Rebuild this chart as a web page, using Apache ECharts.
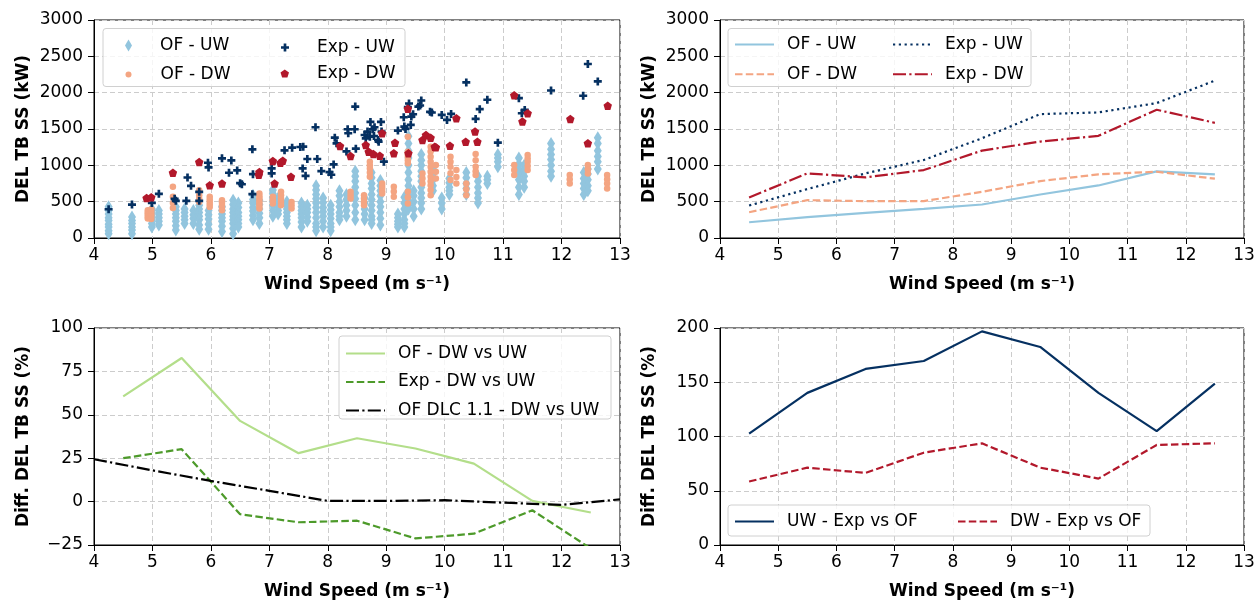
<!DOCTYPE html>
<html><head><meta charset="utf-8">
<script src="https://cdn.jsdelivr.net/npm/echarts@6/dist/echarts.min.js"></script>
<style>html,body{margin:0;padding:0;background:#fff}#c{width:1259px;height:605px}</style>
</head><body><div id="c"></div>
<script>
// ---------- DATA ----------
const windTicks = [4,5,6,7,8,9,10,11,12,13];
const binSpeeds = [4.5,5.5,6.5,7.5,8.5,9.5,10.5,11.5,12.5];

// Panel A: scatter (OpenFAST columns: [speed, [DEL values]])
const ofUwCols = [
 [4.25,[430,380,330,280,240,190,150,100,60]],
 [4.65,[290,240,200,150,110,60]],
 [4.99,[400,350,300,250,200,150]],
 [5.11,[380,330,280,230,180]],
 [5.4,[430,380,330,280,230,170,110]],
 [5.55,[400,350,300,250,200]],
 [5.7,[380,320,270,200]],
 [5.8,[450,400,350,300,250,180,120]],
 [5.96,[380,320,260,190,120]],
 [6.19,[430,380,330,280,230,160,90]],
 [6.38,[520,460,400,350,300,250,200,130,60]],
 [6.47,[480,420,350,300,250,200,150]],
 [6.72,[590,530,480,420,370,310,250]],
 [6.83,[520,460,400,340,280,200]],
 [7.06,[660,610,560,500,450,380,300]],
 [7.15,[550,490,430,380,330]],
 [7.3,[500,450,400,350,300,250,200]],
 [7.55,[480,430,380,330,280,220,150]],
 [7.65,[450,400,350,290,230]],
 [7.8,[720,660,600,540,480,420,350,280,200,150,100]],
 [7.92,[550,490,420,360,300,230,150]],
 [8.05,[450,390,330,270,200,150,100]],
 [8.2,[650,580,500,430,350,300,250]],
 [8.32,[600,530,450,380,300]],
 [8.47,[920,850,780,700,620,540,450,350,250]],
 [8.63,[550,480,400,330,250]],
 [8.75,[900,830,750,680,600,530,450,380,300,250,200]],
 [8.9,[790,720,650,580,500,430,350,270,180]],
 [9.2,[330,280,230,190,150]],
 [9.31,[560,480,400,330,250,200,150]],
 [9.38,[1400,1300,1200,1100,1000,900,800,720,650,570,500,450,400]],
 [9.47,[650,580,500,400,300]],
 [9.6,[1150,1070,1000,920,850,780,700,620,550,480,400]],
 [9.8,[950,880,800,720,650]],
 [9.95,[550,480,400]],
 [10.08,[820,760,700,650,600]],
 [10.37,[900,830,750,680,600]],
 [10.57,[850,780,700,620,550,480]],
 [10.73,[850,800,750]],
 [10.91,[1150,1100,1050,980]],
 [11.27,[1100,1020,950,880,800,700,600]],
 [11.36,[1000,920,850,780,700]],
 [11.82,[1300,1220,1150,1080,1000,920,850]],
 [12.38,[900,820,750,680,600]],
 [12.45,[950,880,800,720,650]],
 [12.62,[1380,1300,1200,1120,1050,950]]
];
const ofDwCols = [
 [4.92,[382,350,327,295,267]],[4.98,[396,360,327,295,262]],[5.35,[704,566,480,414]],[5.8,[658,589,540,497]],
 [5.98,[566,530,497,460,428]],[6.19,[520,485,451,415,382]],[6.83,[612,575,543,510,474,440,405]],[7.06,[566,520,474]],
 [7.2,[635,590,543,500,451]],[7.38,[497,450,405]],[8.39,[635,590,543]],[8.62,[589,540,497,451]],
 [8.72,[1050,1000,958,900,843]],[8.93,[750,715,681,645,612]],[9.13,[704,640,566]],
 [9.37,[1395,1188,1150,1119,1070,1027,635,560,474]],[9.62,[889,820,750]],
 [9.76,[1257,1190,1119,1050,981,910,843,780,727,660,589]],[9.85,[1004,910,820]],
 [10.1,[1119,1050,981,890,797]],[10.2,[935,840,750]],[10.37,[750,670,589]],[10.53,[1156,1070,981,920,866]],
 [11.19,[1004,935,866]],[11.42,[1142,1095,1050,990,935]],[12.14,[866,810,750]],[12.45,[1004,945,889]],
 [12.78,[866,810,750,681]]
];
const expUwPts = [[4.25,396],[4.65,460],[5.11,608],[4.99,483],[5.38,539],[5.4,511],[5.58,511],[5.6,833],[5.66,718],[5.8,635],[5.8,511],[5.95,1036],[5.96,971],[6.19,1096],[6.35,1068],[6.31,898],[6.45,930],[6.5,755],[6.53,740],[6.71,1220],[6.72,879],[6.71,603],[7.04,958],[7.04,889],[7.26,1206],[7.39,1243],[7.53,1252],[7.58,1257],[7.57,958],[7.62,856],[7.65,1087],[7.82,1087],[7.79,1524],[7.89,921],[8.03,907],[8.06,870],[8.1,1013],[8.12,1381],[8.15,1303],[8.34,1496],[8.35,1441],[8.46,1496],[8.32,1192],[8.48,1229],[8.47,1809],[8.63,1418],[8.68,1464],[8.65,1372],[8.73,1598],[8.77,1496],[8.8,1524],[8.91,1598],[8.72,1395],[8.79,1404],[8.86,1349],[8.87,1326],[8.92,1464],[8.96,1050],[9.2,1478],[9.3,1662],[9.31,1533],[9.39,1851],[9.37,1800],[9.33,1501],[9.43,1671],[9.46,1703],[9.42,1556],[9.55,1809],[9.58,1823],[9.6,1892],[9.75,1736],[9.78,1727],[9.95,1694],[10.04,1625],[10.11,1708],[10.37,2141],[10.53,1639],[10.6,1773],[10.73,1902],[10.91,1312],[11.27,1924],[11.32,1717],[11.37,1763],[11.82,2030],[12.37,1957],[12.45,2394],[12.62,2155]];
const expDwPts = [[4.9,552],[4.98,562],[5.35,898],[5.8,1045],[5.98,727],[6.19,750],[6.83,907],[6.82,870],[7.06,1059],[7.19,1036],[7.23,1064],[7.09,750],[7.37,843],[8.21,1266],[8.39,1128],[8.65,1280],[8.7,1188],[8.78,1156],[8.89,1133],[8.93,1441],[9.13,1165],[9.15,1312],[9.37,1777],[9.38,1165],[9.62,1349],[9.68,1418],[9.76,1381],[9.83,1257],[9.85,1248],[10.09,1271],[10.2,1648],[10.36,1326],[10.56,1326],[10.52,1464],[11.19,1966],[11.33,1602],[11.42,1717],[12.15,1639],[12.45,1303],[12.79,1819]];

// Panel B: binned means (kW)
const ofUwMean  = [217,286,346,401,461,599,723,917,875];
const ofDwMean  = [355,521,507,507,636,783,876,912,816];
const expUwMean = [447,673,889,1074,1373,1705,1728,1857,2166];
const expDwMean = [558,889,834,935,1203,1327,1406,1765,1585];

// Panel C: DW vs UW difference (%)
const ofDiff  = [60.6,82.7,46.5,27.9,36.5,30.6,21.9,0.4,-6.3];
const expDiff = [25,30.2,-7.3,-11.9,-11,-21.2,-18.5,-5,-27];
const dlcSpeeds = [4,5,6,7,8,9,10,11,12,13];
const dlcDiff = [24.4,18,11.9,6.2,0.4,0.4,0.8,-0.6,-1.9,1.3];

// Panel D: Exp vs OF difference (%)
const uwExpOf = [102.6,140.2,162.3,169.6,196.9,182.5,140.2,105,148.8];
const dwExpOf = [58.5,71.3,66.4,85.1,93.7,71.3,61.2,92.2,93.7];

// ---------- HELPERS ----------
const FONT = 'DejaVu Sans';
const FS = 17;
const C_LB = '#92c5de', C_OR = '#f4a582', C_NV = '#053061', C_RD = '#b2182b';
const C_LG = '#b3de8a', C_DG = '#4d9a2a';
const pairs = (xs, ys) => xs.map((x,i)=>[x, ys[i]]);
const expand = cols => cols.flatMap(([x, ys]) => ys.map(y => [x, y]));
const PLUS = 'path://M2,0H4V2H6V4H4V6H2V4H0V2H2Z';
const PENT = 'path://M0,-1L0.951,-0.309L0.588,0.809L-0.588,0.809L-0.951,-0.309Z';
const fmtMinus = v => String(v).replace('-', '\u2212');

function xAx(gi){
  return {gridIndex:gi, type:'value', min:4, max:13, interval:1,
    name:'Wind Speed (m s\u207B\u00B9)', nameLocation:'middle', nameGap:38,
    nameTextStyle:{fontFamily:FONT, fontSize:FS, fontWeight:'bold', color:'#000'},
    axisLine:{show:true, onZero:false, lineStyle:{color:'#000', width:1}},
    axisTick:{show:true, length:6, lineStyle:{color:'#000', width:1}},
    axisLabel:{fontFamily:FONT, fontSize:FS, color:'#000', margin:9},
    splitLine:{show:true, lineStyle:{color:'#cccccc', type:[5,3], width:1}}};
}
function yAx(gi, min, max, interval, name){
  return {gridIndex:gi, type:'value', min, max, interval,
    name, nameLocation:'middle', nameGap:62,
    nameTextStyle:{fontFamily:FONT, fontSize:FS, fontWeight:'bold', color:'#000'},
    axisLine:{show:true, onZero:false, lineStyle:{color:'#000', width:1}},
    axisTick:{show:true, length:6, lineStyle:{color:'#000', width:1}},
    axisLabel:{fontFamily:FONT, fontSize:FS, color:'#000', margin:11, formatter:fmtMinus},
    splitLine:{show:true, lineStyle:{color:'#cccccc', type:[5,3], width:1}}};
}
function lineS(name, xi, data, color, type){
  return {name, type:'line', xAxisIndex:xi, yAxisIndex:xi, data, symbol:'none', showSymbol:false, clip:true,
    lineStyle:{color, width:2.2, type}, itemStyle:{color}, z:2, animation:false};
}
function leg(names, left, top, gap, opt){
  return Object.assign({orient:'vertical', left, top, itemGap:gap, itemWidth:39, itemHeight:14,
    data:names, selectedMode:false, padding:0, itemStyle:{opacity:0},
    textStyle:{fontFamily:FONT, fontSize:FS, color:'#000', padding:[0,0,0,8]}}, opt||{});
}
function sLeg(item, left, top, w, h, pad){
  return {orient:'vertical', left, top, itemWidth:w, itemHeight:h, data:[item], selectedMode:false, padding:0,
    textStyle:{fontFamily:FONT, fontSize:FS, color:'#000', padding:[0,0,0,pad]}};
}
function box(x,y,w,h){
  return {type:'rect', shape:{x,y,width:w,height:h,r:3}, z:3,
    style:{fill:'rgba(255,255,255,0.8)', stroke:'#d0d0d0', lineWidth:1}};
}

const DASH = [7.5,3.3], DOT = [2.2,3.6], DASHDOT = [13,3.3,2.2,3.3];

const option = {
  animation:false,
  backgroundColor:'#fff',
  grid:[
    {left:94, top:20, width:526, height:218, show:true, borderColor:'#000', borderWidth:1, backgroundColor:'transparent'},
    {left:720, top:20, width:524, height:218, show:true, borderColor:'#000', borderWidth:1, backgroundColor:'transparent'},
    {left:94, top:328, width:526, height:217, show:true, borderColor:'#000', borderWidth:1, backgroundColor:'transparent'},
    {left:720, top:328, width:524, height:217, show:true, borderColor:'#000', borderWidth:1, backgroundColor:'transparent'}
  ],
  xAxis:[xAx(0), xAx(1), xAx(2), xAx(3)],
  yAxis:[
    yAx(0, 0, 3000, 500, 'DEL TB SS (kW)'),
    yAx(1, 0, 3000, 500, 'DEL TB SS (kW)'),
    yAx(2, -25, 100, 25, 'Diff. DEL TB SS (%)'),
    yAx(3, 0, 200, 50, 'Diff. DEL TB SS (%)')
  ],
  graphic:[
    box(103, 28.5, 302, 58),
    box(728, 28.5, 303, 58),
    box(339, 336, 272, 83),
    box(728, 505, 422, 31)
  ],
  legend:[
    sLeg({name:'OF - UW', icon:'diamond'}, 125, 37, 7, 12, 23),
    sLeg({name:'OF - DW', icon:'circle'}, 125.5, 66, 6, 6, 24),
    sLeg({name:'Exp - UW', icon:PLUS}, 281, 39, 8, 8, 23),
    sLeg({name:'Exp - DW', icon:PENT}, 280.5, 65, 8.5, 8.5, 23),
    leg(['OF - UW ', 'OF - DW '], 734, 36, 12.7),
    leg(['Exp - UW ', 'Exp - DW '], 892, 36, 12.7),
    leg(['OF - DW vs UW', 'Exp - DW vs UW', 'OF DLC 1.1 - DW vs UW'], 345, 345, 11.5),
    leg(['UW - Exp vs OF'], 734, 513, 0),
    leg(['DW - Exp vs OF'], 957, 513, 0)
  ],
  series:[
    {name:'OF - UW', type:'scatter', xAxisIndex:0, yAxisIndex:0, data:expand(ofUwCols),
      symbol:'diamond', symbolSize:[8,13], itemStyle:{color:C_LB, opacity:1}, z:2},
    {name:'OF - DW', type:'scatter', xAxisIndex:0, yAxisIndex:0, data:expand(ofDwCols),
      symbol:'circle', symbolSize:6.5, itemStyle:{color:C_OR, opacity:1}, z:2},
    {name:'Exp - UW', type:'scatter', xAxisIndex:0, yAxisIndex:0, data:expUwPts,
      symbol:PLUS, symbolSize:8, itemStyle:{color:C_NV, opacity:1}, z:2},
    {name:'Exp - DW', type:'scatter', xAxisIndex:0, yAxisIndex:0, data:expDwPts,
      symbol:PENT, symbolSize:8.5, itemStyle:{color:C_RD, opacity:1}, z:2},

    lineS('OF - UW ', 1, pairs(binSpeeds, ofUwMean), C_LB, 'solid'),
    lineS('OF - DW ', 1, pairs(binSpeeds, ofDwMean), C_OR, DASH),
    lineS('Exp - UW ', 1, pairs(binSpeeds, expUwMean), C_NV, DOT),
    lineS('Exp - DW ', 1, pairs(binSpeeds, expDwMean), C_RD, DASHDOT),

    lineS('OF - DW vs UW', 2, pairs(binSpeeds, ofDiff), C_LG, 'solid'),
    lineS('Exp - DW vs UW', 2, pairs(binSpeeds, expDiff), C_DG, DASH),
    lineS('OF DLC 1.1 - DW vs UW', 2, pairs(dlcSpeeds, dlcDiff), '#000', DASHDOT),

    lineS('UW - Exp vs OF', 3, pairs(binSpeeds, uwExpOf), C_NV, 'solid'),
    lineS('DW - Exp vs OF', 3, pairs(binSpeeds, dwExpOf), C_RD, DASH)
  ]
};
const chart = echarts.init(document.getElementById('c'), null, {renderer:'canvas'});
chart.setOption(option);
</script></body></html>
